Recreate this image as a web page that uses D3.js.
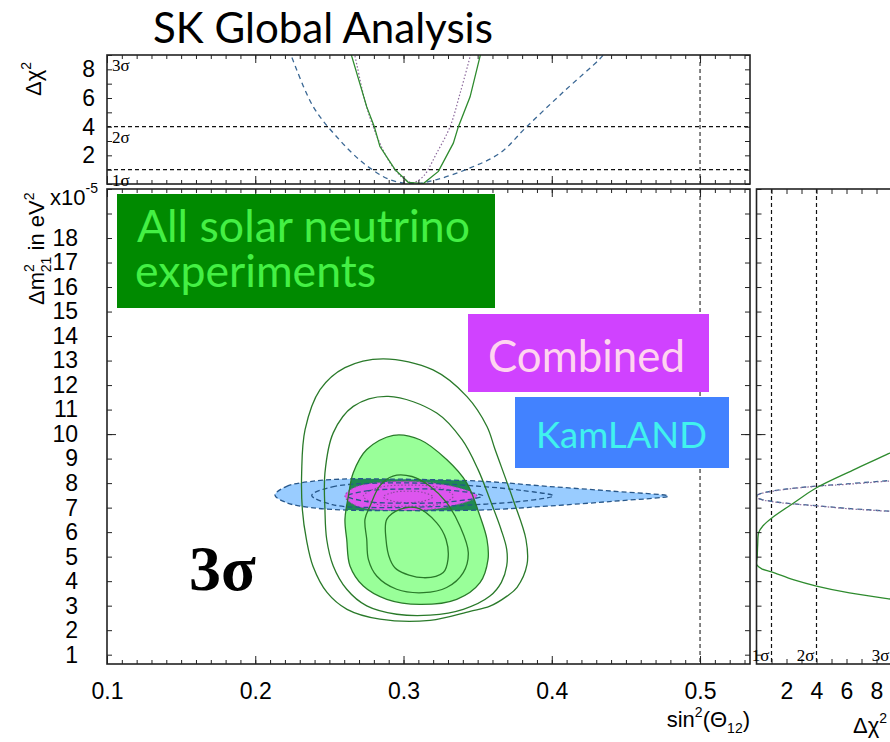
<!DOCTYPE html>
<html>
<head>
<meta charset="utf-8">
<title>SK Global Analysis</title>
<script src="https://cdn.jsdelivr.net/npm/d3@7/dist/d3.min.js"></script>
<style>
  html, body { margin: 0; padding: 0; background: #ffffff; }
  svg { display: block; }
</style>
</head>
<body>
<svg id="chart" width="890" height="742"></svg>
<script>
// ---------------- data ----------------
// axis tick labels
const thetaTickLabels = [0.1, 0.2, 0.3, 0.4, 0.5];
const dm2TickLabels = [1, 2, 3, 4, 5, 6, 7, 8, 9, 10, 11, 12, 13, 14, 15, 16, 17, 18];
const chi2TickLabels = [2, 4, 6, 8];
const sigmaLevels = [1, 4, 9];
const sigmaNames = ["1σ", "2σ", "3σ"];
const maximalMixing = 0.5;

// Solar-only allowed regions: [sin²θ12, Δm²21 in 1e-5 eV²]
const solar1s = [[0.2976,6.93],[0.3091,6.99],[0.3224,6.38],[0.3287,5.70],[0.3300,4.89],[0.3268,4.35],
  [0.3134,4.14],[0.2954,4.48],[0.2909,4.89],[0.2882,5.70],[0.2887,6.52]];
const solar2s = [[0.2929,8.29],[0.3057,8.27],[0.3179,7.87],[0.3291,7.20],[0.3381,6.24],[0.3437,5.16],
  [0.3403,4.35],[0.3291,3.74],[0.3134,3.53],[0.2954,3.67],[0.2819,4.21],[0.2763,4.89],[0.2752,5.70],
  [0.2740,6.52],[0.2774,7.06],[0.2841,7.90]];
const solar3s = [[0.2931,9.95],[0.3111,9.77],[0.3291,8.96],[0.3426,8.01],[0.3516,6.65],[0.3563,5.70],
  [0.3570,4.89],[0.3516,3.94],[0.3359,3.26],[0.3111,3.05],[0.2887,3.26],[0.2729,3.80],[0.2639,4.62],
  [0.2617,5.70],[0.2605,6.52],[0.2628,7.47],[0.2661,8.42],[0.2752,9.37]];
const solar4s = [[0.2897,11.54],[0.3224,10.86],[0.3395,9.77],[0.3503,8.55],[0.3583,7.33],[0.3658,6.11],
  [0.3696,5.30],[0.3696,4.62],[0.3660,3.95],[0.3583,3.39],[0.3403,2.85],[0.3179,2.61],[0.2954,2.65],
  [0.2752,2.99],[0.2617,3.67],[0.2526,4.62],[0.2482,5.70],[0.2470,6.92],[0.2470,8.42],[0.2526,10.05],
  [0.2661,11.13]];
const solar5s = [[0.2862,13.07],[0.3199,12.62],[0.3428,11.53],[0.3563,10.31],[0.3617,9.38],[0.3739,7.33],
  [0.3826,5.70],[0.3833,4.68],[0.3766,3.75],[0.3698,3.39],[0.3583,2.98],[0.3449,2.77],[0.3179,2.40],
  [0.2841,2.45],[0.2619,2.85],[0.2484,3.54],[0.2390,4.60],[0.2345,5.70],[0.2318,6.90],[0.2313,8.43],
  [0.2336,10.18],[0.2437,11.81],[0.2605,12.71]];

// KamLAND allowed regions
const kam1s = [[0.2620,7.47],[0.2750,7.68],[0.3000,7.76],[0.3300,7.72],[0.3535,7.48],[0.3300,7.23],
  [0.3000,7.18],[0.2750,7.25]];
const kam2s = [[0.2381,7.50],[0.2520,7.85],[0.2841,8.00],[0.3200,7.98],[0.3516,7.87],[0.3800,7.70],
  [0.4011,7.48],[0.3800,7.26],[0.3516,7.13],[0.3200,7.04],[0.2841,7.00],[0.2520,7.12]];
const kam3s = [[0.2133,7.51],[0.2212,7.87],[0.2392,8.08],[0.2617,8.17],[0.2841,8.17],[0.3516,8.08],
  [0.3966,7.87],[0.4415,7.67],[0.4786,7.47],[0.4415,7.26],[0.3966,7.06],[0.3516,6.90],[0.2841,6.88],
  [0.2617,6.90],[0.2392,6.99],[0.2212,7.20]];

// Solar + KamLAND combined regions
const comb1s = [[0.2864,7.44],[0.2930,7.62],[0.3030,7.67],[0.3130,7.62],[0.3199,7.44],[0.3130,7.26],
  [0.3030,7.21],[0.2930,7.26]];
const comb2s = [[0.2729,7.47],[0.2820,7.80],[0.3030,7.92],[0.3250,7.80],[0.3336,7.47],[0.3250,7.16],
  [0.3030,7.06],[0.2820,7.14]];
const comb3s = [[0.2605,7.47],[0.2680,7.85],[0.2997,8.07],[0.3320,7.88],[0.3496,7.47],[0.3320,7.06],
  [0.2997,6.88],[0.2680,7.08]];

// Δχ² profiles versus sin²θ12
const chiSolarTheta = [[0.2640,9.4],[0.2651,8.9],[0.2752,5.38],[0.2803,4.0],[0.2841,2.61],[0.2943,1.0],
  [0.3032,0.12],[0.3134,0.03],[0.3235,0.88],[0.3336,2.85],[0.3370,4.0],[0.3449,6.08],[0.3516,8.9],[0.3528,9.4]];
const chiKamTheta = [[0.2225,9.4],[0.2246,8.85],[0.2392,5.38],[0.2549,3.30],[0.2729,1.46],[0.2909,0.30],
  [0.3066,0.02],[0.3224,0.31],[0.3449,1.12],[0.3651,2.16],[0.3831,4.0],[0.4078,6.42],[0.4325,8.74],[0.4380,9.4]];
const chiCombTheta = [[0.2660,9.4],[0.2673,8.9],[0.2735,6.0],[0.2795,4.0],[0.2880,2.0],[0.2950,0.9],
  [0.3010,0.3],[0.3066,0.1],[0.3134,0.54],[0.3224,2.16],[0.3314,4.0],[0.3381,6.31],[0.3449,8.9],[0.3460,9.4]];

// Δχ² profiles versus Δm²21: [Δχ², Δm²21]
const chiSolarDm = [[9.3,9.36],[8.8,9.20],[6.4,8.52],[4.0,7.81],[2.5,7.20],[1.0,6.57],[0.45,6.27],
  [0.15,5.99],[0.08,5.50],[0.05,5.00],[0.02,4.67],[0.35,4.50],[1.0,4.38],[2.5,4.05],[4.0,3.80],
  [6.2,3.52],[8.8,3.28],[9.3,3.24]];
const chiKamDm = [[9.3,8.12],[8.8,8.10],[6.0,7.97],[4.0,7.88],[2.0,7.76],[1.0,7.67],[0.35,7.59],
  [0.08,7.52],[0.05,7.46],[0.08,7.40],[0.35,7.33],[1.0,7.26],[2.0,7.18],[4.0,7.08],[6.0,6.97],
  [8.8,6.86],[9.3,6.84]];
const chiCombDm = [[9.3,8.10],[8.8,8.08],[6.0,7.95],[4.0,7.87],[2.0,7.75],[1.0,7.66],[0.35,7.58],
  [0.08,7.51],[0.03,7.45],[0.08,7.39],[0.35,7.32],[1.0,7.25],[2.0,7.17],[4.0,7.07],[6.0,6.96],
  [8.8,6.85],[9.3,6.83]];

// ---------------- layout ----------------
const svg = d3.select("#chart");
const mainBox = {left: 107, right: 750, top: 189, bottom: 664};
const topBox  = {left: 107, right: 750, top: 55,  bottom: 184};
const sideBox = {left: 756.5, right: 891.5, top: 189, bottom: 664};

const x = d3.scaleLinear().domain([0.1, 0.5337]).range([mainBox.left, mainBox.right]);
const y = d3.scaleLinear().domain([0.62, 20]).range([mainBox.bottom, mainBox.top]);
const yChi = d3.scaleLinear().domain([0, 9]).range([topBox.bottom, topBox.top]);
const xChi = d3.scaleLinear().domain([0, 9]).range([sideBox.left, sideBox.right]);

const SANS = '"Liberation Sans", Arial, Helvetica, sans-serif';
const SERIF = '"Liberation Serif", "Times New Roman", serif';
const CAL = 'Lato, "Open Sans", sans-serif';

const defs = svg.append("defs");
function addClip(id, b) {
  defs.append("clipPath").attr("id", id).append("rect")
    .attr("x", b.left).attr("y", b.top)
    .attr("width", b.right - b.left).attr("height", b.bottom - b.top);
}
addClip("clip-main", mainBox);
addClip("clip-top", topBox);
addClip("clip-side", sideBox);

// ---------------- main panel: allowed regions ----------------
const region = d3.line().x(d => x(d[0])).y(d => y(d[1])).curve(d3.curveCatmullRomClosed.alpha(0.5));
const gMain = svg.append("g").attr("clip-path", "url(#clip-main)");

gMain.append("path").attr("d", region(solar3s)).attr("fill", "#99ff99");
gMain.append("path").attr("d", region(kam3s)).attr("fill", "#99ccff");
defs.append("clipPath").attr("id", "clip-solar3").append("path").attr("d", region(solar3s));
gMain.append("g").attr("clip-path", "url(#clip-solar3)")
  .append("path").attr("d", region(kam3s)).attr("fill", "#1f8a52");
gMain.append("path").attr("d", region(comb3s)).attr("fill", "#dd55ee")
  .attr("stroke", "#9250a8").attr("stroke-width", 1.1).attr("stroke-dasharray", "1.5,2");
[comb2s, comb1s].forEach(c => gMain.append("path").attr("d", region(c)).attr("fill", "none")
  .attr("stroke", "#8a4a9e").attr("stroke-width", 1.1).attr("stroke-dasharray", "1.5,2"));
[kam3s, kam2s, kam1s].forEach(c => gMain.append("path").attr("d", region(c)).attr("fill", "none")
  .attr("stroke", "#27578a").attr("stroke-width", 1.3).attr("stroke-dasharray", "5,3"));
[solar1s, solar2s, solar3s, solar4s, solar5s].forEach(c => gMain.append("path").attr("d", region(c))
  .attr("fill", "none").attr("stroke", "#2a7a2a").attr("stroke-width", 1.3));

gMain.append("line").attr("x1", x(maximalMixing)).attr("x2", x(maximalMixing))
  .attr("y1", mainBox.top).attr("y2", mainBox.bottom)
  .attr("stroke", "#333").attr("stroke-width", 1.2).attr("stroke-dasharray", "4,3");

// ---------------- top panel: Δχ² vs sin²θ12 ----------------
const gTop = svg.append("g").attr("clip-path", "url(#clip-top)");
[1, 4].forEach(v => gTop.append("line").attr("x1", topBox.left).attr("x2", topBox.right)
  .attr("y1", yChi(v)).attr("y2", yChi(v))
  .attr("stroke", "#111").attr("stroke-width", 1.2).attr("stroke-dasharray", "4,3"));
gTop.append("line").attr("x1", x(maximalMixing)).attr("x2", x(maximalMixing))
  .attr("y1", topBox.top).attr("y2", topBox.bottom)
  .attr("stroke", "#333").attr("stroke-width", 1.2).attr("stroke-dasharray", "4,3");

const profTheta = d3.line().x(d => x(d[0])).y(d => yChi(d[1]));
gTop.append("path").attr("d", profTheta.curve(d3.curveCatmullRom.alpha(0.5))(chiKamTheta))
  .attr("fill", "none").attr("stroke", "#3a6794").attr("stroke-width", 1.3).attr("stroke-dasharray", "5,4");
gTop.append("path").attr("d", profTheta.curve(d3.curveCatmullRom.alpha(0.5))(chiCombTheta))
  .attr("fill", "none").attr("stroke", "#8c6a9c").attr("stroke-width", 1.2).attr("stroke-dasharray", "1.5,2");
gTop.append("path").attr("d", profTheta.curve(d3.curveLinear)(chiSolarTheta))
  .attr("fill", "none").attr("stroke", "#2e8b2e").attr("stroke-width", 1.3);

// ---------------- side panel: Δχ² vs Δm²21 ----------------
const gSide = svg.append("g").attr("clip-path", "url(#clip-side)");
[1, 4].forEach(v => gSide.append("line").attr("x1", xChi(v)).attr("x2", xChi(v))
  .attr("y1", sideBox.top).attr("y2", sideBox.bottom)
  .attr("stroke", "#111").attr("stroke-width", 1.2).attr("stroke-dasharray", "4,3"));
const profDm = d3.line().x(d => xChi(d[0])).y(d => y(d[1])).curve(d3.curveCatmullRom.alpha(0.5));
gSide.append("path").attr("d", profDm(chiKamDm)).attr("fill", "none")
  .attr("stroke", "#3a6794").attr("stroke-width", 1.3).attr("stroke-dasharray", "5,4");
gSide.append("path").attr("d", profDm(chiCombDm)).attr("fill", "none")
  .attr("stroke", "#8c6a9c").attr("stroke-width", 1.2).attr("stroke-dasharray", "1.5,2");
gSide.append("path").attr("d", profDm(chiSolarDm)).attr("fill", "none")
  .attr("stroke", "#2e8b2e").attr("stroke-width", 1.3);

// ---------------- axes ----------------
const thetaMinor = d3.range(10, 54).map(i => i / 100);
const dm2Minor = d3.range(1, 21);
const chiMinor = d3.range(0, 10);

function axis(tx, ty, gen, fontSize) {
  const g = svg.append("g").attr("transform", `translate(${tx},${ty})`).call(gen);
  g.select(".domain").remove();
  g.selectAll("line").attr("stroke", "#222").attr("stroke-width", 1);
  g.attr("font-family", SANS).attr("font-size", fontSize || 23);
  g.selectAll("text").attr("fill", "#000");
  return g;
}
const none = () => "";

// main panel
axis(0, mainBox.bottom, d3.axisBottom(x).tickValues(thetaMinor).tickSize(-4).tickFormat(none));
axis(0, mainBox.bottom, d3.axisBottom(x).tickValues(thetaTickLabels).tickSize(-8).tickPadding(19).tickFormat(d3.format(".1f")));
axis(0, mainBox.top, d3.axisTop(x).tickValues(thetaMinor).tickSize(-4).tickFormat(none));
axis(0, mainBox.top, d3.axisTop(x).tickValues(thetaTickLabels).tickSize(-8).tickFormat(none));
axis(mainBox.left, 0, d3.axisLeft(y).tickValues(dm2Minor).tickSize(-5).tickFormat(none));
axis(mainBox.left, 0, d3.axisLeft(y).tickValues([10]).tickSize(-9).tickFormat(none));
axis(mainBox.left, 0, d3.axisLeft(y).tickValues(dm2TickLabels).tickSize(0).tickPadding(29));
axis(mainBox.right, 0, d3.axisRight(y).tickValues(dm2Minor).tickSize(-5).tickFormat(none));
axis(mainBox.right, 0, d3.axisRight(y).tickValues([10]).tickSize(-9).tickFormat(none));

// top panel
axis(0, topBox.bottom, d3.axisBottom(x).tickValues(thetaMinor).tickSize(-4).tickFormat(none));
axis(0, topBox.bottom, d3.axisBottom(x).tickValues(thetaTickLabels).tickSize(-8).tickFormat(none));
axis(0, topBox.top, d3.axisTop(x).tickValues(thetaMinor).tickSize(-4).tickFormat(none));
axis(0, topBox.top, d3.axisTop(x).tickValues(thetaTickLabels).tickSize(-8).tickFormat(none));
axis(topBox.left, 0, d3.axisLeft(yChi).tickValues(chiMinor).tickSize(-5).tickFormat(none));
axis(topBox.left, 0, d3.axisLeft(yChi).tickValues(chi2TickLabels).tickSize(0).tickPadding(12));
axis(topBox.right, 0, d3.axisRight(yChi).tickValues(chiMinor).tickSize(-5).tickFormat(none));

// side panel
axis(sideBox.left, 0, d3.axisLeft(y).tickValues(dm2Minor).tickSize(-5).tickFormat(none));
axis(sideBox.left, 0, d3.axisLeft(y).tickValues([10]).tickSize(-9).tickFormat(none));
axis(0, sideBox.top, d3.axisTop(xChi).tickValues(d3.range(1, 9)).tickSize(-5).tickFormat(none));
axis(0, sideBox.bottom, d3.axisBottom(xChi).tickValues(d3.range(1, 9)).tickSize(-5).tickFormat(none));
axis(0, sideBox.bottom, d3.axisBottom(xChi).tickValues(chi2TickLabels).tickSize(0).tickPadding(19));

// panel frames
[mainBox, topBox, sideBox].forEach(b => svg.append("rect")
  .attr("x", b.left).attr("y", b.top).attr("width", b.right - b.left).attr("height", b.bottom - b.top)
  .attr("fill", "none").attr("stroke", "#222").attr("stroke-width", 1.6));

// sigma level labels
sigmaLevels.forEach((lv, i) => {
  svg.append("text").attr("x", topBox.left + 5).attr("y", yChi(lv) + 16)
    .attr("font-family", SERIF).attr("font-size", 17).text(sigmaNames[i]);
  svg.append("text").attr("x", xChi(lv) - 2).attr("y", sideBox.bottom - 3).attr("text-anchor", "end")
    .attr("font-family", SERIF).attr("font-size", 17).text(sigmaNames[i]);
});

// ---------------- axis titles ----------------
function richText(tx, ty, rot, parts, anchor) {
  const t = svg.append("text")
    .attr("transform", `translate(${tx},${ty})` + (rot ? ` rotate(${rot})` : ""))
    .attr("font-family", SANS).attr("text-anchor", anchor || "start");
  parts.forEach(p => {
    const s = t.append("tspan").attr("font-size", p.size || 22).text(p.text);
    if (p.dx) s.attr("dx", p.dx);
    if (p.dy) s.attr("dy", p.dy);
  });
  return t;
}
richText(44, 305, -90, [
  {text: "Δm"}, {text: "2", size: 14, dy: -10}, {text: "21", size: 14, dx: -8, dy: 17},
  {text: " in eV", dy: -7}, {text: "2", size: 14, dy: -10}]);
richText(41, 96, -90, [{text: "Δχ"}, {text: "2", size: 14, dy: -10}]);
richText(50, 205, 0, [{text: "x10"}, {text: "-5", size: 14, dy: -12}]);
richText(750, 727, 0, [
  {text: "sin"}, {text: "2", size: 14, dy: -10}, {text: "(Θ", dy: 10},
  {text: "12", size: 14, dy: 6}, {text: ")", dy: -6}], "end");
richText(853, 733, 0, [{text: "Δχ"}, {text: "2", size: 14, dy: -10}]);

// ---------------- title and annotations ----------------
function fitText(sel, width) {
  const fs = +sel.attr("font-size");
  const w = sel.node().getComputedTextLength();
  sel.attr("font-size", fs * width / w);
}
fitText(svg.append("text").attr("x", 153).attr("y", 43).attr("font-family", CAL)
  .attr("font-size", 40).attr("fill", "#000").text("SK Global Analysis"), 340);

svg.append("rect").attr("x", 117).attr("y", 194).attr("width", 378).attr("height", 114).attr("fill", "#008a00");
fitText(svg.append("text").attr("x", 137).attr("y", 242).attr("font-family", CAL)
  .attr("font-size", 38).attr("fill", "#44f044").text("All solar neutrino"), 333);
const l2 = svg.append("text").attr("x", 135).attr("y", 287).attr("font-family", CAL)
  .attr("fill", "#44f044").text("experiments");
l2.attr("font-size", svg.selectAll("text").filter(function() { return this.textContent === "All solar neutrino"; }).attr("font-size"));

svg.append("rect").attr("x", 468).attr("y", 314).attr("width", 241).attr("height", 78).attr("fill", "#d042ff");
fitText(svg.append("text").attr("x", 488).attr("y", 372).attr("font-family", CAL)
  .attr("font-size", 38).attr("fill", "#ffd4f0").text("Combined"), 197);

svg.append("rect").attr("x", 515).attr("y", 397).attr("width", 214).attr("height", 71).attr("fill", "#4282ff");
fitText(svg.append("text").attr("x", 536).attr("y", 448).attr("font-family", CAL)
  .attr("font-size", 33).attr("fill", "#40f2ee").text("KamLAND"), 171);

svg.append("text").attr("x", 189).attr("y", 590).attr("font-family", SERIF)
  .attr("font-weight", "bold").attr("font-size", 64).attr("fill", "#000").text("3σ");

// page number peeking at the bottom edge
svg.append("text").attr("x", 858).attr("y", 764).attr("font-family", CAL)
  .attr("font-weight", "bold").attr("font-size", 30).attr("fill", "#9a9a9a").text("10");
</script>
</body>
</html>
